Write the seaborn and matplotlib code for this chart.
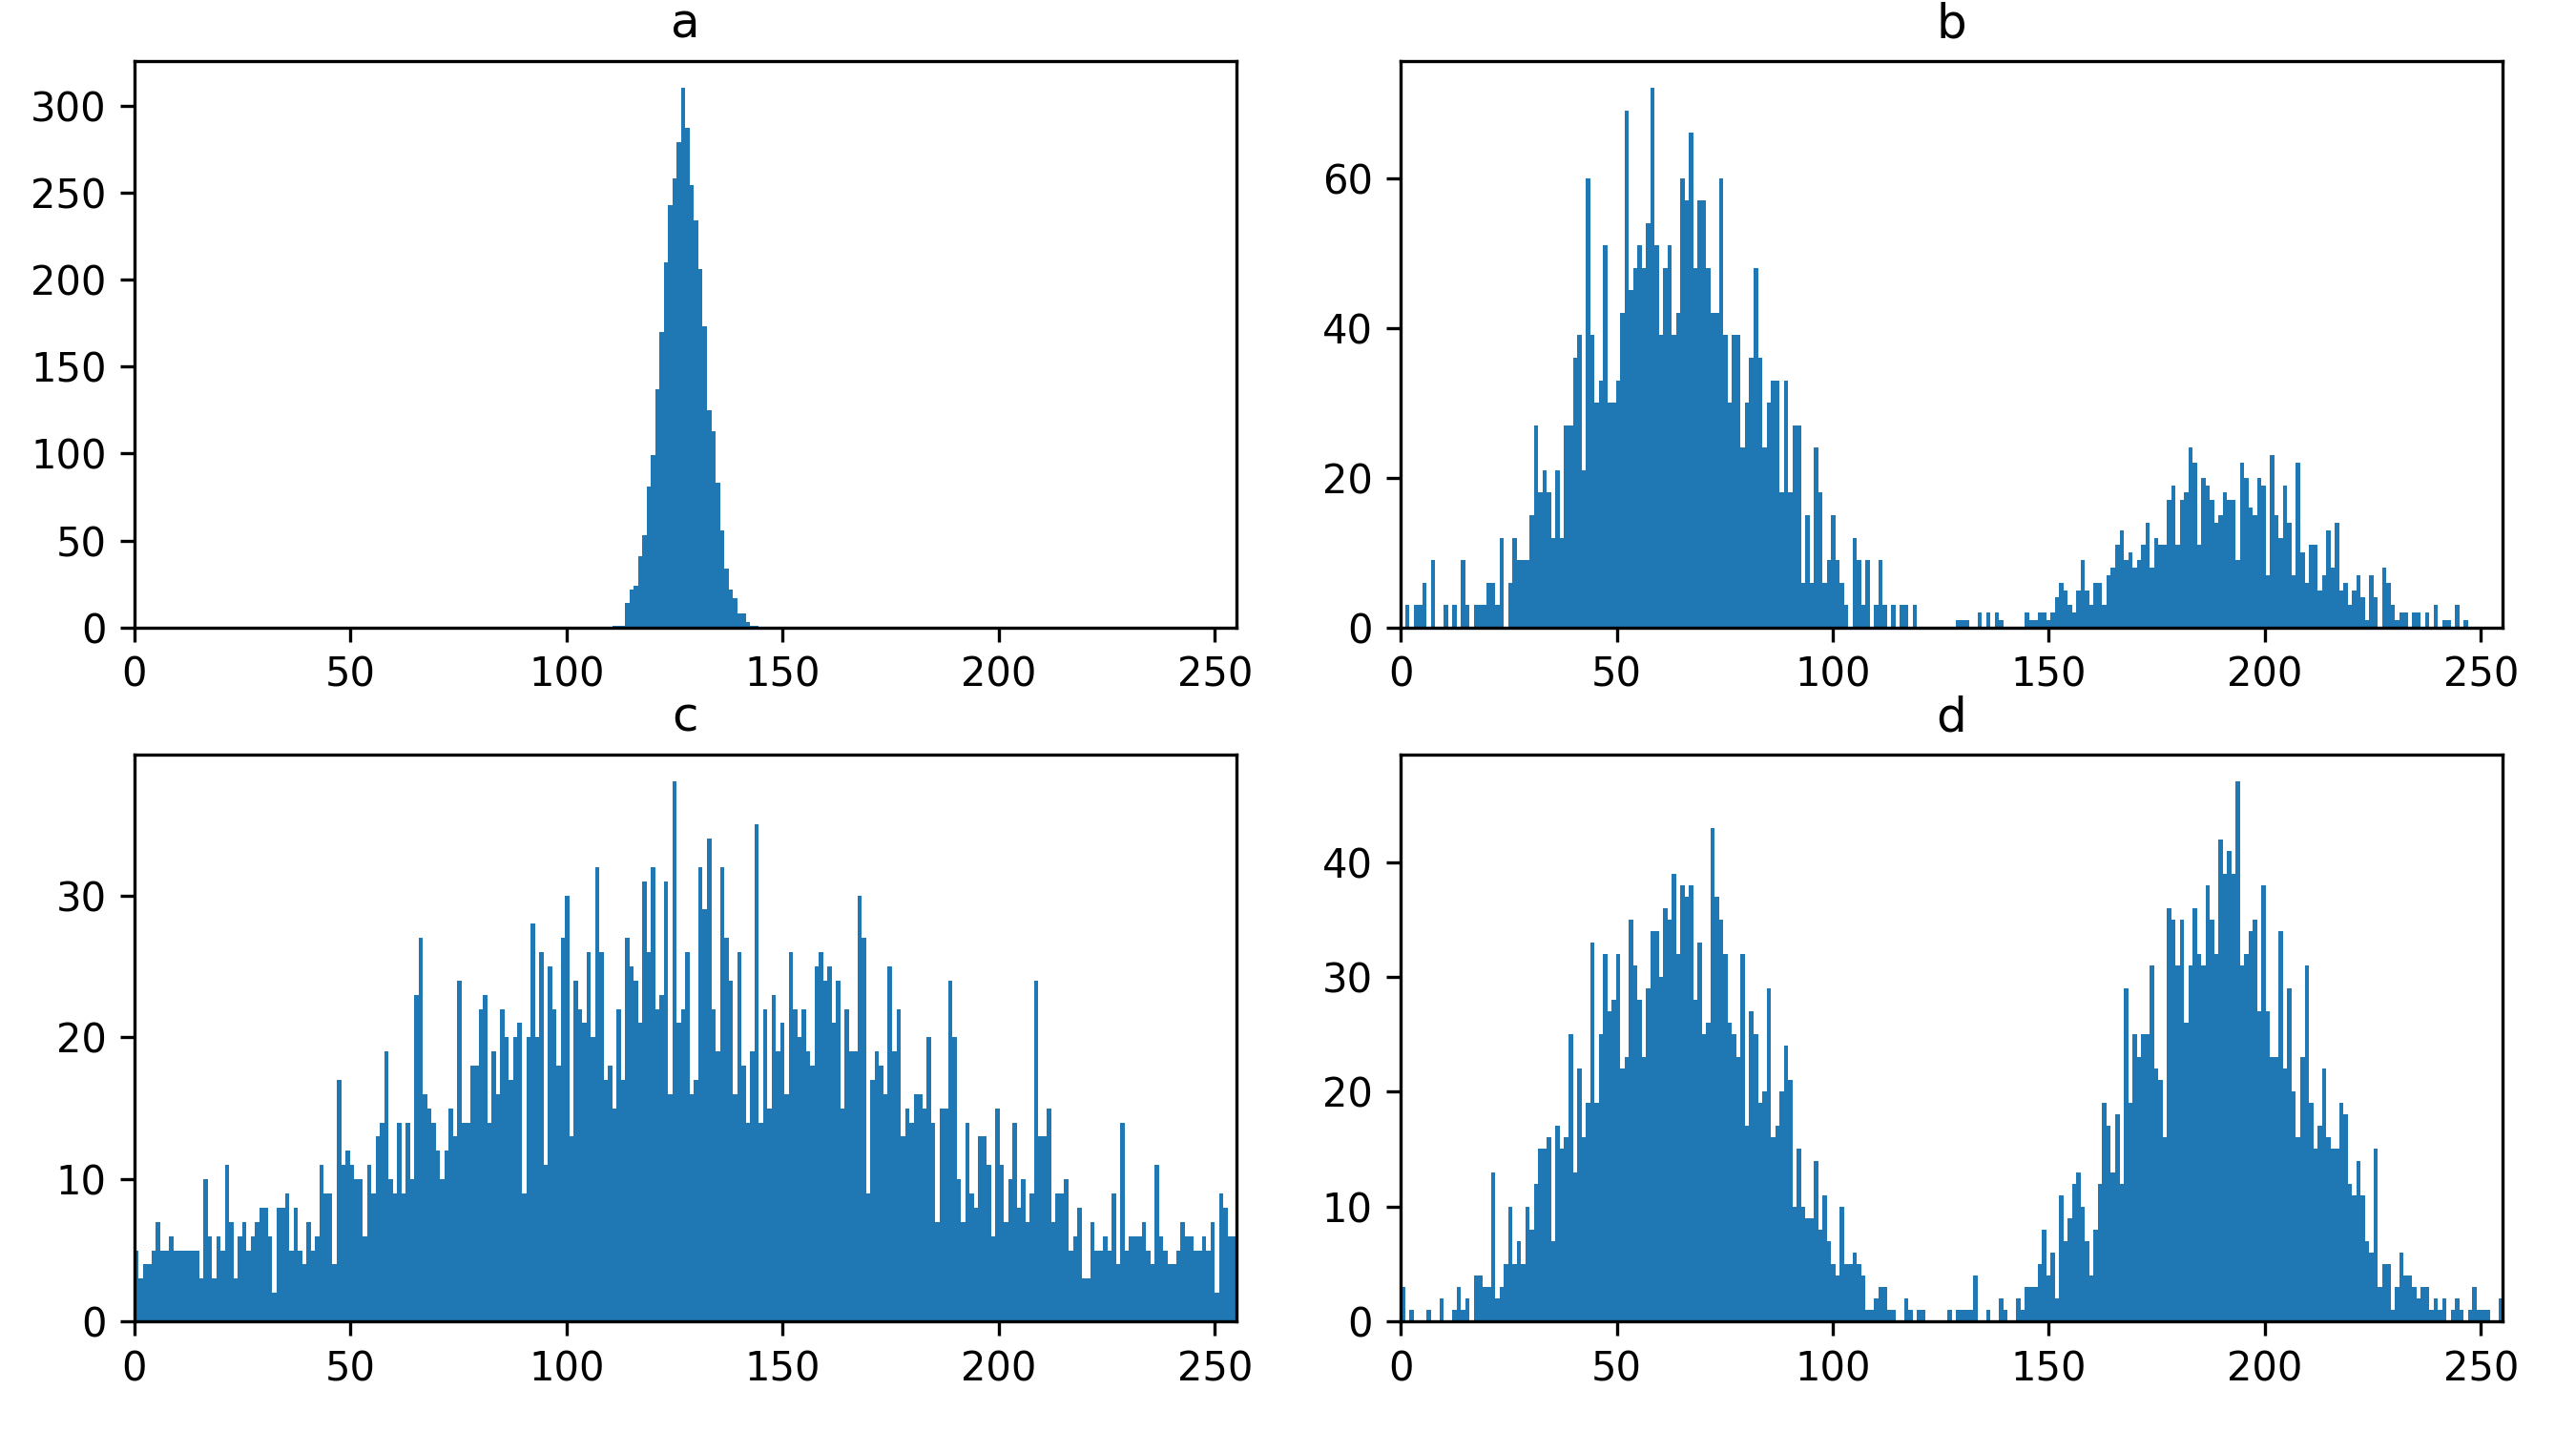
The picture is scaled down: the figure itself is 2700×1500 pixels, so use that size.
import numpy as np
import pandas as pd
import matplotlib
matplotlib.use("Agg")
import matplotlib.pyplot as plt
import seaborn as sns

# ---- data: counts per intensity bin (256 bins over 0..255) ----
titles = ["a", "b", "c", "d"]

counts_a = [
    0, 0, 0, 0, 0, 0, 0, 0, 0, 0, 0, 0, 0, 0, 0, 0,
    0, 0, 0, 0, 0, 0, 0, 0, 0, 0, 0, 0, 0, 0, 0, 0,
    0, 0, 0, 0, 0, 0, 0, 0, 0, 0, 0, 0, 0, 0, 0, 0,
    0, 0, 0, 0, 0, 0, 0, 0, 0, 0, 0, 0, 0, 0, 0, 0,
    0, 0, 0, 0, 0, 0, 0, 0, 0, 0, 0, 0, 0, 0, 0, 0,
    0, 0, 0, 0, 0, 0, 0, 0, 0, 0, 0, 0, 0, 0, 0, 0,
    0, 0, 0, 0, 0, 0, 0, 0, 0, 0, 0, 0, 0, 0, 0, 1,
    1, 1, 14, 22, 24, 41, 53, 81, 99, 137, 170, 210, 243, 258, 279, 310,
    287, 254, 234, 206, 173, 125, 113, 83, 56, 34, 22, 17, 8, 8, 3, 1,
    1, 0, 0, 0, 0, 0, 0, 0, 0, 0, 0, 0, 0, 0, 0, 0,
    0, 0, 0, 0, 0, 0, 0, 0, 0, 0, 0, 0, 0, 0, 0, 0,
    0, 0, 0, 0, 0, 0, 0, 0, 0, 0, 0, 0, 0, 0, 0, 0,
    0, 0, 0, 0, 0, 0, 0, 0, 0, 0, 0, 0, 0, 0, 0, 0,
    0, 0, 0, 0, 0, 0, 0, 0, 0, 0, 0, 0, 0, 0, 0, 0,
    0, 0, 0, 0, 0, 0, 0, 0, 0, 0, 0, 0, 0, 0, 0, 0,
    0, 0, 0, 0, 0, 0, 0, 0, 0, 0, 0, 0, 0, 0, 0, 0,
]

counts_b = [
    0, 3, 0, 3, 3, 6, 0, 9, 0, 0, 3, 0, 3, 0, 9, 3,
    0, 3, 3, 3, 6, 6, 3, 12, 0, 6, 12, 9, 9, 9, 15, 27,
    18, 21, 18, 12, 21, 12, 27, 27, 36, 39, 21, 60, 39, 30, 33, 51,
    30, 30, 33, 42, 69, 45, 48, 51, 48, 54, 72, 51, 39, 48, 51, 39,
    42, 60, 57, 66, 48, 57, 57, 48, 42, 42, 60, 39, 30, 39, 39, 24,
    30, 36, 48, 36, 24, 30, 33, 33, 18, 33, 18, 27, 27, 6, 15, 6,
    24, 18, 6, 9, 15, 9, 6, 3, 0, 12, 9, 3, 9, 0, 3, 9,
    3, 0, 3, 0, 3, 3, 0, 3, 0, 0, 0, 0, 0, 0, 0, 0,
    0, 1, 1, 1, 0, 0, 2, 0, 2, 0, 2, 1, 0, 0, 0, 0,
    0, 2, 1, 1, 2, 2, 1, 2, 4, 6, 5, 3, 2, 5, 9, 5,
    3, 6, 6, 3, 7, 8, 11, 13, 9, 10, 8, 9, 11, 14, 8, 12,
    11, 11, 17, 19, 11, 17, 18, 24, 22, 11, 20, 19, 17, 14, 15, 18,
    17, 17, 9, 22, 20, 16, 15, 20, 19, 7, 23, 15, 12, 19, 14, 7,
    22, 10, 6, 11, 11, 5, 7, 13, 8, 14, 5, 6, 3, 5, 7, 4,
    1, 7, 4, 0, 8, 6, 3, 1, 2, 2, 0, 2, 2, 0, 2, 0,
    3, 0, 1, 1, 0, 3, 0, 1, 0, 0, 0, 0, 0, 0, 0, 0,
]

counts_c = [
    5, 3, 4, 4, 5, 7, 5, 5, 6, 5, 5, 5, 5, 5, 5, 3,
    10, 6, 3, 6, 5, 11, 7, 3, 6, 7, 5, 6, 7, 8, 8, 6,
    2, 8, 8, 9, 5, 8, 5, 4, 7, 5, 6, 11, 9, 9, 4, 17,
    11, 12, 11, 10, 10, 6, 11, 9, 13, 14, 19, 10, 9, 14, 9, 14,
    10, 23, 27, 16, 15, 14, 12, 10, 12, 15, 13, 24, 14, 14, 18, 18,
    22, 23, 14, 19, 16, 22, 20, 17, 20, 21, 9, 20, 28, 20, 26, 11,
    25, 22, 18, 27, 30, 13, 24, 22, 21, 26, 20, 32, 26, 17, 18, 15,
    22, 17, 27, 25, 24, 21, 31, 26, 32, 22, 23, 31, 16, 38, 21, 22,
    26, 16, 17, 32, 29, 34, 22, 19, 32, 27, 24, 16, 26, 18, 14, 19,
    35, 14, 22, 15, 23, 19, 21, 16, 26, 22, 20, 22, 19, 18, 25, 26,
    24, 25, 21, 24, 15, 22, 19, 19, 30, 27, 9, 17, 19, 18, 16, 25,
    19, 22, 13, 15, 14, 16, 16, 15, 20, 14, 7, 15, 15, 24, 20, 10,
    7, 14, 9, 8, 13, 13, 11, 6, 15, 11, 7, 10, 14, 8, 10, 7,
    9, 24, 13, 13, 15, 7, 9, 9, 10, 5, 6, 8, 3, 3, 7, 5,
    5, 6, 5, 9, 4, 14, 5, 6, 6, 6, 7, 5, 4, 11, 6, 5,
    4, 4, 5, 7, 6, 6, 5, 5, 6, 5, 7, 2, 9, 8, 6, 6,
]

counts_d = [
    3, 0, 1, 0, 0, 0, 1, 0, 0, 2, 0, 0, 1, 3, 1, 2,
    0, 4, 4, 3, 3, 13, 2, 3, 5, 10, 5, 7, 5, 10, 8, 12,
    15, 15, 16, 7, 17, 15, 16, 25, 13, 22, 16, 19, 33, 19, 25, 32,
    27, 28, 32, 22, 23, 35, 31, 28, 23, 29, 34, 34, 30, 36, 35, 39,
    32, 38, 37, 38, 28, 33, 25, 26, 43, 37, 35, 32, 26, 25, 23, 32,
    17, 27, 25, 19, 20, 29, 16, 17, 20, 24, 21, 10, 15, 10, 9, 9,
    14, 8, 11, 7, 5, 4, 10, 5, 5, 6, 5, 4, 1, 1, 2, 3,
    3, 1, 1, 0, 0, 2, 1, 0, 1, 1, 0, 0, 0, 0, 0, 1,
    0, 1, 1, 1, 1, 4, 0, 0, 1, 0, 0, 2, 1, 0, 0, 2,
    1, 3, 3, 3, 5, 8, 4, 6, 2, 11, 7, 9, 12, 13, 10, 7,
    4, 8, 12, 19, 17, 13, 18, 12, 29, 19, 25, 23, 25, 25, 31, 22,
    21, 16, 36, 35, 31, 35, 26, 31, 36, 32, 31, 38, 35, 32, 42, 39,
    41, 39, 47, 31, 32, 34, 35, 27, 38, 27, 23, 23, 34, 22, 29, 20,
    16, 23, 31, 19, 15, 17, 22, 16, 15, 15, 19, 18, 12, 11, 14, 11,
    7, 6, 15, 3, 5, 5, 1, 3, 6, 4, 4, 3, 2, 3, 3, 1,
    2, 1, 2, 0, 1, 2, 1, 0, 1, 3, 1, 1, 1, 0, 0, 2,
]

all_counts = [counts_a, counts_b, counts_c, counts_d]

# ---- figure ----
fig, axes = plt.subplots(2, 2, figsize=(9, 5), dpi=300)
fig.subplots_adjust(left=0.0522, right=0.9715, top=0.9573, bottom=0.0767,
                    wspace=0.149, hspace=0.2247)

n_bins = 256
bin_w = 255 / n_bins
bin_centers = bin_w * (np.arange(n_bins) + 0.5)
color = "#1f77b4"

for ax, title, counts in zip(axes.ravel(), titles, all_counts):
    df = pd.DataFrame({"level": bin_centers, "count": counts})
    sns.histplot(data=df, x="level", weights="count", bins=n_bins,
                 binrange=(0, 255), ax=ax, color=color, alpha=1.0,
                 linewidth=0, edgecolor="none", element="bars", fill=True)
    for p in ax.patches:
        p.set_antialiased(False)
    ax.set_xlim(0, 255)
    ax.set_ylim(0, max(counts) * 1.05)
    ax.set_xticks([0, 50, 100, 150, 200, 250])
    ax.set_ylabel("")
    ax.set_xlabel("")
    ax.set_title(title)

fig.savefig("out.png", dpi=300)
